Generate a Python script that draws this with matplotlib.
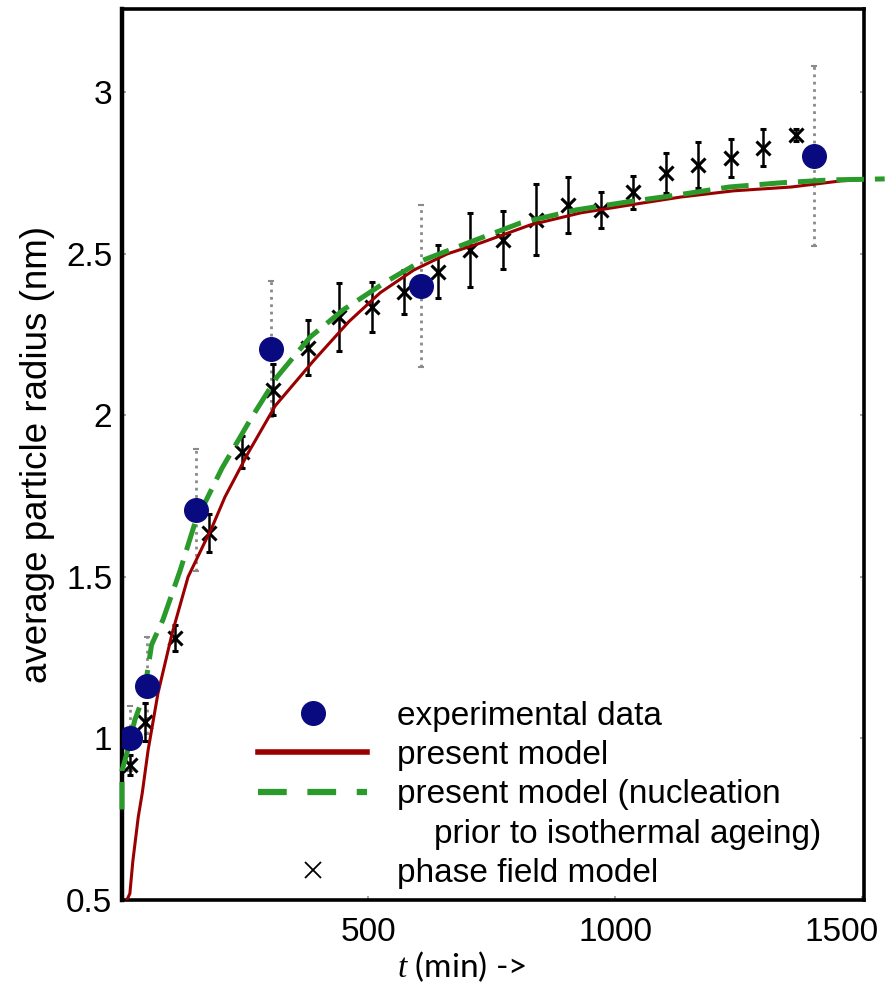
import matplotlib
matplotlib.use("Agg")
import matplotlib.pyplot as plt
import matplotlib.transforms as mtransforms
from matplotlib.lines import Line2D

plt.rcParams['font.family'] = ['Liberation Sans', 'DejaVu Sans']
plt.rcParams['mathtext.fontset'] = 'custom'
plt.rcParams['mathtext.it'] = 'Liberation Serif:italic'

# experimental data (t in min, radius in nm)
exp_t = [16, 51, 150, 303, 606, 1404]
exp_r = [1.0, 1.163, 1.707, 2.206, 2.40, 2.803]
exp_err = [0.10, 0.15, 0.19, 0.21, 0.25, 0.28]

# phase field model
pf_t = [16, 47, 108, 177, 244, 307, 378, 441, 508, 573, 640, 705, 772,
        839, 904, 972, 1037, 1104, 1169, 1236, 1301, 1368]
pf_r = [0.918, 1.051, 1.311, 1.636, 1.887, 2.08, 2.21, 2.305, 2.336, 2.382,
        2.444, 2.512, 2.543, 2.605, 2.652, 2.636, 2.69, 2.75, 2.775, 2.797,
        2.828, 2.868]
pf_err = [0.03, 0.06, 0.04, 0.06, 0.05, 0.08, 0.085, 0.105, 0.077, 0.067,
          0.082, 0.116, 0.09, 0.11, 0.087, 0.057, 0.05, 0.063, 0.07, 0.06,
          0.057, 0.02]

# present model
model_t = [10, 16, 22, 33, 41, 53, 73, 102, 134, 183, 209, 256, 311, 389,
           460, 524, 592, 660, 728, 829, 931, 1033, 1134, 1240, 1358, 1459, 1505]
model_r = [0.5, 0.52, 0.62, 0.757, 0.83, 0.964, 1.14, 1.327, 1.50, 1.655,
           1.748, 1.884, 2.03, 2.17, 2.29, 2.38, 2.45, 2.50, 2.534, 2.59,
           2.627, 2.652, 2.676, 2.695, 2.707, 2.726, 2.73]

# present model, nucleation prior to isothermal ageing
nuc_t = [0, 0, 12, 26, 41, 47, 60, 83, 118, 148, 203, 260, 315, 382, 449,
         535, 610, 707, 809, 921, 1026, 1130, 1232, 1337, 1439, 1547]
nuc_r = [0.78, 0.90, 0.965, 1.057, 1.12, 1.16, 1.29, 1.367, 1.52, 1.667,
         1.837, 1.986, 2.12, 2.243, 2.327, 2.413, 2.48, 2.537, 2.596, 2.636,
         2.661, 2.683, 2.707, 2.72, 2.729, 2.732]

red = '#9b0000'
green = '#2a9a2a'
navy = '#0a0a80'

fig = plt.figure(figsize=(8.93, 9.97), dpi=100)
ax = fig.add_axes([0.1366, 0.0973, 0.8309, 0.8937])

# error bars of the experiment (dotted, grey)
eb = ax.errorbar(exp_t, exp_r, yerr=exp_err, fmt='none', ecolor='#8a8a8a',
                 elinewidth=2, capsize=2, capthick=1.5, zorder=1)
eb[2][0].set_linestyle(':')

# phase field model
ax.errorbar(pf_t, pf_r, yerr=pf_err, fmt='x', color='black', ms=10, mew=2.2,
            elinewidth=1.8, capsize=2.5, capthick=1.5, zorder=2)

ax.plot(model_t, model_r, color=red, lw=2.2, zorder=3)
nuc_line, = ax.plot(nuc_t, nuc_r, color=green, lw=3.6, zorder=4, clip_on=False)
nuc_line.set_dashes([5.5, 2.2])

ax.plot(exp_t, exp_r, 'o', color=navy, ms=17, zorder=5)

ax.set_xlim(0, 1505)
ax.set_ylim(0.5, 3.258)
ax.set_xticks([500, 1000, 1500])
ax.set_yticks([0.5, 1, 1.5, 2, 2.5, 3])
ax.set_yticklabels(['0.5', '1', '1.5', '2', '2.5', '3'])
ax.tick_params(direction='in', length=3, width=1.2, color='#9a9a9a',
               labelsize=24, right=True)
ax.tick_params(axis='y', pad=7)
ax.tick_params(axis='x', pad=12)

for s in ax.spines.values():
    s.set_linewidth(2.6)
    s.set_color('black')
ax.spines['left'].set_linewidth(3.2)

# nudge the last x tick label inward, as in the original
lab = ax.xaxis.get_major_ticks()[-1].label1
lab.set_transform(lab.get_transform() +
                  mtransforms.ScaledTranslation(-0.2, 0, fig.dpi_scale_trans))

ax.set_ylabel('average particle radius (nm)', fontsize=26.5, labelpad=8)
ax.set_xlabel(r'$t$ (min) ->', fontsize=24, family=['Lato', 'DejaVu Sans'])
ax.xaxis.set_label_coords(0.458, -0.055)

handles = [
    Line2D([], [], ls='none', marker='o', color=navy, ms=17),
    Line2D([], [], color=red, lw=4),
    Line2D([], [], color=green, lw=4.5, dashes=[4.6, 3.3]),
    Line2D([], [], ls='none'),
    Line2D([], [], ls='none', marker='x', color='black', ms=12, mew=1.3),
]
labels = ['experimental data', 'present model', 'present model (nucleation',
          '    prior to isothermal ageing)', 'phase field model']
ax.legend(handles, labels, loc='lower left', bbox_to_anchor=(0.175, 0.005),
          frameon=False, fontsize=24, handlelength=3.25, handletextpad=0.9,
          labelspacing=0.25, borderpad=0.2, borderaxespad=0)

fig.savefig('out.png', dpi=100)
